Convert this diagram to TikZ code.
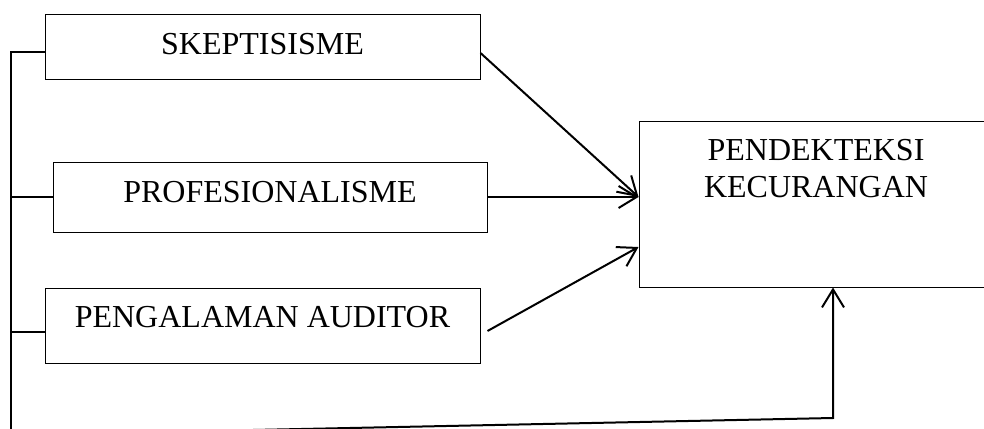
\documentclass[tikz,border=0pt]{standalone}
\usepackage{fontspec}
\setmainfont{Liberation Serif}
\usetikzlibrary{arrows.meta}

\begin{document}
\begin{tikzpicture}[x=1pt,y=-1pt]
\tikzstyle{every node}+=[inner sep=0pt, font=\fontsize{32}{37}\selectfont]
\tikzstyle{var}=[draw=black, line width=1pt]
\tikzstyle{link}=[black, line width=2pt]
\tikzstyle{arr}=[link, -{Straight Barb[length=18pt,width=22pt]}]
\useasboundingbox (0,0) rectangle (984,428);
\node [var, minimum width=435pt, minimum height=64pt, text height=22pt, text depth=6pt] (skep) at (262.5,47) {SKEPTISISME};
\node [var, minimum width=434pt, minimum height=70pt, text height=22pt, text depth=12pt] (prof) at (270,197) {PROFESIONALISME};
\node [var, minimum width=435pt, minimum height=75pt, text height=22pt, text depth=19pt] (peng) at (262.5,325.5) {PENGALAMAN AUDITOR};
\node [var, minimum width=354pt, minimum height=166pt] (pend) at (816,204) {};
\node [anchor=north, align=center] (pendtxt) at ([yshift=-19pt]pend.north) {PENDEKTEKSI\\KECURANGAN};
\coordinate (base) at (11,435);
\coordinate (bend) at (833,418);
\draw [link] ([yshift=-5pt]skep.west) -| (base);
\draw [link] (prof.west) -- (prof.west -| base);
\draw [link] ([yshift=-6.5pt]peng.west) -- ([yshift=-6.5pt]peng.west -| base);
\draw [arr] ([yshift=-6pt]skep.east) -- ([yshift=7pt]pend.west);
\draw [arr] (prof.east) -- ([yshift=7pt]pend.west);
\draw [arr] ([shift={(7pt,-5.5pt)}]peng.east) -- ([yshift=-43pt]pend.west);
\draw [arr] (base) -- (bend) -- ([xshift=17pt]pend.south);
\end{tikzpicture}
\end{document}
